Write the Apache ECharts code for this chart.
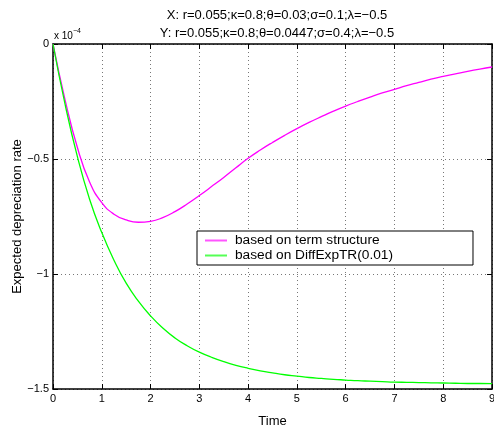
<!DOCTYPE html>
<html>
<head>
<meta charset="utf-8">
<script src="https://cdn.jsdelivr.net/npm/echarts@6/dist/echarts.min.js"></script>
<style>
  html, body { margin: 0; padding: 0; background: #fff; }
  #chart { width: 494px; height: 429px; }
</style>
</head>
<body>
<div id="chart"></div>
<script>
// values in units of 1e-4
var times = [0, 0.25, 0.5, 0.75, 1, 1.25, 1.5, 1.75, 2, 2.25, 2.5, 2.75, 3, 3.25, 3.5, 3.75, 4, 4.25, 4.5, 4.75,
  5, 5.25, 5.5, 5.75, 6, 6.25, 6.5, 6.75, 7, 7.25, 7.5, 7.75, 8, 8.25, 8.5, 8.75, 9];
var termStructure = [0, -0.245, -0.45, -0.6, -0.69, -0.74, -0.765, -0.775, -0.771, -0.755, -0.729, -0.696, -0.659,
  -0.62, -0.58, -0.538, -0.497, -0.461, -0.428, -0.397, -0.368, -0.341, -0.316, -0.292, -0.27,
  -0.25, -0.231, -0.213, -0.197, -0.181, -0.167, -0.153, -0.141, -0.13, -0.119, -0.109, -0.1];
var diffExpTR = [0, -0.265, -0.49, -0.675, -0.82, -0.94, -1.04, -1.118, -1.182, -1.235, -1.278, -1.312, -1.34,
  -1.362, -1.381, -1.397, -1.41, -1.421, -1.43, -1.438, -1.444, -1.45, -1.454, -1.458, -1.461,
  -1.464, -1.466, -1.468, -1.47, -1.471, -1.472, -1.473, -1.474, -1.475, -1.476, -1.476, -1.477];
var xTicks = [0, 1, 2, 3, 4, 5, 6, 7, 8, 9];
var yTicks = [0, -0.5, -1, -1.5];

var font = 'Liberation Sans, Arial, Helvetica, sans-serif';

function pairs(ys) {
  return times.map(function(t, i) { return [t, ys[i]]; });
}
function yLabel(v) {
  return v === 0 ? '0' : '\u2212' + Math.abs(v);
}

var chart = echarts.init(document.getElementById('chart'));

var gridLine = { show: true, lineStyle: { color: '#777', width: 1, type: [1, 3] } };
var axisLine = { show: true, onZero: false, lineStyle: { color: '#000', width: 1.5 } };
var tick = { show: true, inside: true, length: 5, lineStyle: { color: '#000', width: 1 } };

chart.setOption({
  animation: false,
  backgroundColor: '#fff',
  textStyle: { fontFamily: font },
  title: {
    text: 'X: r=0.055;\u03ba=0.8;\u03b8=0.03;\u03c3=0.1;\u03bb=\u22120.5\nY: r=0.055;\u03ba=0.8;\u03b8=0.0447;\u03c3=0.4;\u03bb=\u22120.5',
    left: 272,
    top: 1,
    textAlign: 'center',
    textStyle: { fontFamily: font, fontSize: 13, fontWeight: 'normal', color: '#000', lineHeight: 18 }
  },
  grid: { left: 53, right: 2, top: 44, bottom: 40, containLabel: false, outerBoundsMode: 'none' },
  legend: {
    orient: 'vertical',
    left: 197,
    top: 231,
    padding: [2, 80, 2, 8],
    itemGap: 0,
    itemWidth: 22,
    itemHeight: 2,
    icon: 'rect',
    backgroundColor: '#fff',
    borderColor: '#000',
    borderWidth: 1,
    borderRadius: 0,
    textStyle: { fontFamily: font, fontSize: 13.7, color: '#000', lineHeight: 15, padding: [0, 0, 0, 3] },
    data: ['based on term structure', 'based on DiffExpTR(0.01)']
  },
  xAxis: [{
    type: 'value',
    min: 0, max: 9, interval: 1,
    name: 'Time',
    nameLocation: 'middle',
    nameGap: 26,
    nameTextStyle: { fontFamily: font, fontSize: 13, color: '#000' },
    axisLine: axisLine,
    axisTick: tick,
    splitLine: gridLine,
    axisLabel: { color: '#000', fontSize: 11, fontFamily: font, margin: 4,
      formatter: function(v) { return xTicks.indexOf(v) >= 0 ? String(v) : ''; } }
  }, {
    type: 'value', position: 'top',
    min: 0, max: 9, interval: 1,
    axisLine: axisLine, axisTick: tick,
    splitLine: { show: false }, axisLabel: { show: false }
  }],
  yAxis: [{
    type: 'value',
    min: -1.5, max: 0, interval: 0.5,
    name: 'Expected depreciation rate',
    nameLocation: 'middle',
    nameGap: 29,
    nameMoveOverlap: false,
    nameTextStyle: { fontFamily: font, fontSize: 13, color: '#000' },
    axisLine: axisLine,
    axisTick: tick,
    splitLine: gridLine,
    axisLabel: { color: '#000', fontSize: 11, fontFamily: font, margin: 4,
      formatter: function(v) { return yTicks.indexOf(v) >= 0 ? yLabel(v) : ''; } }
  }, {
    type: 'value', position: 'right',
    min: -1.5, max: 0, interval: 0.5,
    axisLine: axisLine, axisTick: tick,
    splitLine: { show: false }, axisLabel: { show: false }
  }],
  graphic: [{
    type: 'text',
    left: 54,
    top: 28,
    style: {
      text: '{b|x 10}{s|\u22124}',
      rich: {
        b: { fontFamily: font, fontSize: 10, fill: '#000', verticalAlign: 'bottom' },
        s: { fontFamily: font, fontSize: 7, fill: '#000', verticalAlign: 'top', padding: [0, 0, 6, 0] }
      }
    }
  }],
  series: [{
    name: 'based on term structure',
    type: 'line',
    smooth: true,
    symbol: 'none',
    data: pairs(termStructure),
    lineStyle: { color: '#ff00ff', width: 1.3 },
    itemStyle: { color: '#ff55ff' }
  }, {
    name: 'based on DiffExpTR(0.01)',
    type: 'line',
    smooth: true,
    symbol: 'none',
    data: pairs(diffExpTR),
    lineStyle: { color: '#00ff00', width: 1.3 },
    itemStyle: { color: '#55ff55' }
  }]
});
</script>
</body>
</html>
